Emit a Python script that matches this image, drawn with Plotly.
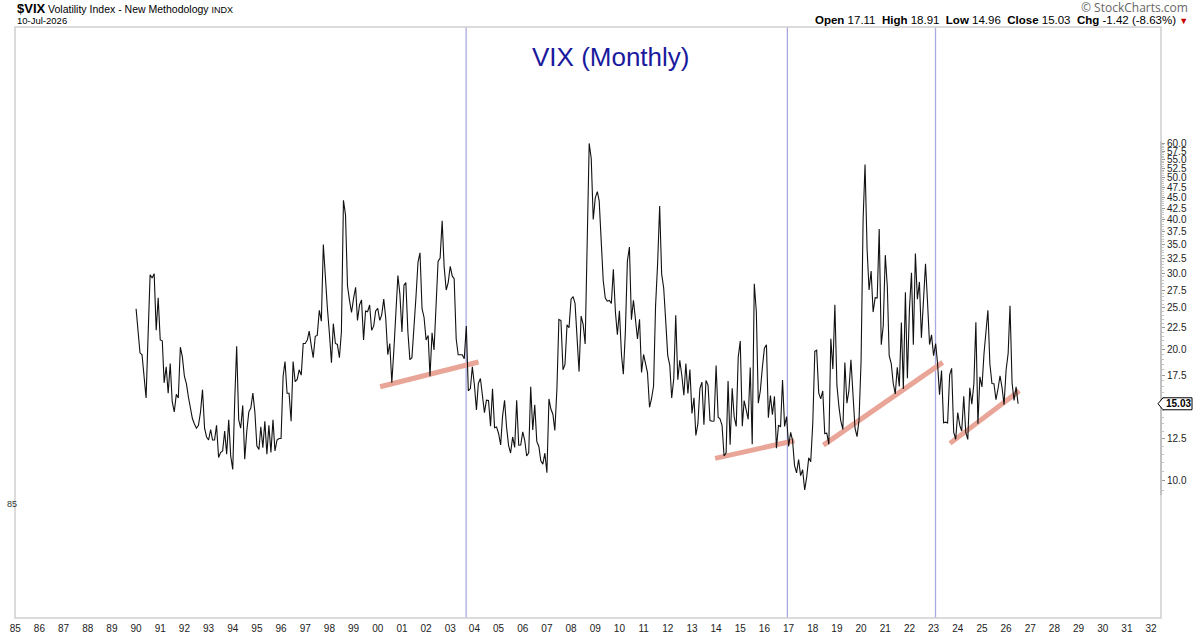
import numpy as np
import pandas as pd
import plotly.graph_objects as go

# ---------------- data (monthly closes, Jan-1990 .. Jul-2026) ----------------
vix_1990s = [
    24.9, 21.5, 19.7, 19.5, 17.4, 15.5, 21.5, 29.8, 29.3, 30.0, 22.2, 26.4,
    21.1, 21.0, 16.8, 18.3, 15.9, 18.6, 15.2, 14.4, 15.8, 15.5, 20.3, 19.3,
    17.4, 16.7, 15.6, 14.8, 13.9, 13.5, 13.2, 13.4, 14.4, 16.2, 13.2, 12.6,
    12.4, 13.1, 12.4, 12.4, 13.4, 11.3, 11.6, 11.7, 13.0, 11.5, 13.8, 11.4,
    10.6, 15.5, 20.4, 13.8, 13.2, 14.9, 11.2, 13.0, 14.4, 14.7, 15.9, 14.4,
    12.0, 11.8, 13.3, 11.9, 13.7, 11.5, 13.4, 11.6, 13.8, 11.7, 12.4, 12.5,
    12.5, 17.4, 18.8, 15.9, 15.9, 13.7, 18.8, 16.9, 17.1, 18.0, 17.5, 20.7,
    20.7, 21.1, 22.1, 20.5, 19.2, 21.5, 21.6, 24.7, 23.3, 35.0, 29.0, 25.0,
    21.8, 18.7, 23.0, 20.7, 20.6, 19.2, 22.0, 44.3, 41.0, 28.1, 26.0, 24.4,
    26.3, 27.9, 23.4, 25.4, 26.1, 21.1, 24.6, 24.5, 25.4, 22.2, 22.7, 24.6,
]
vix_2000s = [
    24.95, 23.4, 24.1, 26.2, 23.7, 19.5, 20.7, 16.8, 20.0, 25.0, 29.7, 26.9,
    22.0, 28.2, 28.6, 22.0, 19.0, 19.2, 22.0, 26.5, 31.9, 33.5, 24.9, 23.8,
    21.1, 21.6, 17.4, 21.9, 20.0, 25.4, 32.0, 32.6, 39.7, 31.1, 27.5, 28.6,
    31.2, 29.6, 29.2, 21.2, 19.5, 19.5, 19.5, 19.1, 22.7, 16.1, 16.3, 18.3,
    16.63, 14.55, 16.74, 17.19, 15.50, 14.34, 15.32, 15.29, 13.34, 16.27, 13.24, 13.29,
    12.82, 12.08, 14.02, 15.31, 13.29, 12.04, 11.57, 12.60, 11.92, 15.32, 12.06, 12.07,
    12.95, 12.34, 11.39, 11.59, 16.44, 13.08, 14.95, 12.31, 11.98, 11.10, 10.91, 11.56,
    10.42, 15.42, 14.64, 14.22, 13.05, 16.23, 23.52, 23.38, 18.00, 18.53, 22.87, 22.50,
    26.20, 26.54, 25.61, 20.79, 17.83, 23.95, 22.94, 20.65, 39.39, 59.89, 55.28, 40.00,
    44.84, 46.35, 44.14, 36.50, 28.92, 26.35, 25.92, 26.01, 25.61, 30.69, 24.51, 21.68,
]
vix_2010s = [
    24.62, 19.50, 17.59, 22.05, 32.07, 34.54, 23.50, 26.05, 23.70, 21.20, 23.54, 17.75,
    19.53, 18.35, 17.74, 14.75, 15.45, 16.52, 25.25, 31.62, 42.96, 29.96, 27.80, 23.40,
    19.44, 18.43, 15.50, 17.15, 24.06, 17.08, 18.93, 17.47, 15.73, 18.60, 15.87, 18.02,
    14.28, 15.51, 12.70, 13.52, 16.30, 16.86, 13.45, 17.01, 16.60, 13.75, 13.70, 13.72,
    18.41, 14.00, 13.88, 13.41, 11.40, 11.57, 16.95, 12.09, 16.31, 14.03, 13.33, 19.20,
    20.97, 13.34, 15.29, 14.55, 13.84, 18.23, 12.12, 28.43, 24.50, 15.07, 16.13, 18.21,
    20.20, 20.55, 13.95, 15.70, 14.19, 15.63, 11.87, 13.42, 13.29, 17.06, 13.33, 14.04,
    11.99, 12.92, 12.37, 10.82, 10.41, 11.18, 10.26, 10.59, 9.51, 10.18, 11.28, 11.04,
    13.54, 19.85, 19.97, 15.93, 15.43, 16.09, 12.83, 12.86, 12.12, 21.23, 18.07, 25.42,
    16.57, 14.78, 13.71, 13.12, 18.71, 15.08, 16.12, 18.98, 16.24, 13.22, 12.62, 13.78,
]
vix_2020s = [
    18.84, 40.11, 53.54, 34.15, 27.51, 30.43, 24.46, 26.41, 26.37, 38.02, 20.57, 22.75,
    33.09, 27.95, 19.40, 18.61, 16.76, 15.83, 18.24, 16.48, 23.14, 16.26, 27.19, 17.22,
    24.83, 30.15, 20.56, 33.40, 26.19, 28.71, 21.33, 25.87, 31.62, 25.88, 20.58, 21.67,
    19.40, 20.70, 18.70, 15.78, 17.94, 13.59, 13.63, 13.57, 17.52, 18.14, 12.92, 12.45,
    14.35, 13.40, 13.01, 15.65, 12.92, 12.44, 16.36, 15.00, 16.73, 23.16, 13.51, 17.35,
    16.43, 19.63, 22.28, 24.70, 18.57, 16.73, 16.72, 15.36, 16.28, 17.44, 16.35, 14.95,
    17.98, 19.65, 25.30, 16.80, 15.30, 16.45, 15.03,
]
start_month = "1990-01-01"

# trend lines: (date, value) endpoints
trend_dates = [
    ["2000-02-06", "2004-03-03"],
    ["2013-12-17", "2017-03-29"],
    ["2018-06-11", "2023-05-19"],
    ["2023-09-06", "2026-07-19"],
]
trend_values = [
    [16.45, 18.76],
    [11.25, 12.35],
    [12.07, 18.73],
    [12.18, 16.10],
]
# vertical marker lines
vline_dates = ["2003-08-29", "2016-12-13", "2023-01-30"]

# axis ticks
year_ticks = list(range(1985, 2033))
price_ticks = [10.0, 12.5, 17.5, 20.0, 22.5, 25.0, 27.5, 30.0, 32.5, 35.0,
               37.5, 40.0, 42.5, 45.0, 47.5, 50.0, 52.5, 55.0, 57.5, 60.0]
last_close = 15.03

# ---------------- build ----------------
values = vix_1990s + vix_2000s + vix_2010s + vix_2020s
dates = pd.date_range(start_month, periods=len(values), freq="MS")

W, H = 1200, 634
L, R, T, B = 15, 39, 27, 16
PW, PH = W - L - R, H - T - B
YLO, YHI = 0.6829, 2.0459
FONT = "Liberation Sans, Arial, sans-serif"


def px_x(x):
    return (x - L) / PW


def px_y(y):
    return (H - B - y) / PH


def val_y(v):
    return (np.log10(v) - YLO) / (YHI - YLO)


fig = go.Figure()

for d, v in zip(trend_dates, trend_values):
    fig.add_trace(go.Scatter(x=d, y=v, mode="lines",
                             line=dict(color="#E9A597", width=5),
                             hoverinfo="skip", showlegend=False))

fig.add_trace(go.Scatter(x=dates, y=values, mode="lines",
                         line=dict(color="#111111", width=1.1),
                         showlegend=False))

shapes = []
for d in vline_dates:
    shapes.append(dict(type="line", xref="x", yref="paper", x0=d, x1=d,
                       y0=0, y1=1, line=dict(color="#A9A9E2", width=1.3),
                       layer="below"))
# frame
shapes.append(dict(type="rect", xref="paper", yref="paper", x0=0, x1=1,
                   y0=0, y1=1, line=dict(color="#D0D0D0", width=1.5),
                   layer="below"))
# right price axis line
shapes.append(dict(type="line", xref="paper", yref="paper", x0=1, x1=1,
                   y0=val_y(9.25), y1=val_y(60.5),
                   line=dict(color="#A8A8A8", width=1)))
# last-price tag outline
shapes.append(dict(type="path", xref="paper", yref="paper",
                   xsizemode="pixel", ysizemode="pixel",
                   xanchor=1, yanchor=val_y(last_close),
                   path="M -3 0 L 2 -6 L 31 -6 L 31 6 L 2 6 Z",
                   fillcolor="white", line=dict(color="#000000", width=1)))

annotations = [
    dict(text="<span style='font-size:13px'><b>$VIX</b></span> "
              "Volatility Index - New Methodology "
              "<span style='font-size:9px'>INDX</span>",
         xref="paper", yref="paper", x=px_x(15), y=px_y(9),
         xanchor="left", yanchor="middle", showarrow=False,
         font=dict(family=FONT, size=10.5, color="#000")),
    dict(text="10-Jul-2026", xref="paper", yref="paper", x=px_x(15),
         y=px_y(21), xanchor="left", yanchor="middle", showarrow=False,
         font=dict(family=FONT, size=9.5, color="#000")),
    dict(text="© StockCharts.com", xref="paper", yref="paper", x=px_x(1190),
         y=px_y(8), xanchor="right", yanchor="middle", showarrow=False,
         font=dict(family="Open Sans, sans-serif", size=12, color="#666")),
    dict(text="<b>Open</b> 17.11  <b>High</b> 18.91  <b>Low</b> 14.96  "
              "<b>Close</b> 15.03  <b>Chg</b> -1.42 (-8.63%) "
              "<span style='color:#CC0000;font-size:9px'>▼</span>",
         xref="paper", yref="paper", x=px_x(1190), y=px_y(20),
         xanchor="right", yanchor="middle", showarrow=False,
         font=dict(family=FONT, size=11.5, color="#000")),
    dict(text="VIX (Monthly)", xref="paper", yref="paper", x=px_x(611),
         y=px_y(57), xanchor="center", yanchor="middle", showarrow=False,
         font=dict(family=FONT, size=26, color="#1A1A9E")),
    dict(text="<b>15.03</b>", xref="paper", yref="paper", x=1,
         y=val_y(last_close), xanchor="center", yanchor="middle",
         xshift=17, showarrow=False,
         font=dict(family=FONT, size=10, color="#000")),
    dict(text="85", xref="paper", yref="paper", x=0, y=px_y(504),
         xanchor="right", yanchor="middle", xshift=4, showarrow=False,
         font=dict(family=FONT, size=9, color="#333")),
]

minor_vals = [round(9.5 + 0.5 * i, 1) for i in range(102)]

fig.update_layout(
    width=W, height=H,
    margin=dict(l=L, r=R, t=T, b=B, autoexpand=False),
    paper_bgcolor="white", plot_bgcolor="white",
    shapes=shapes, annotations=annotations,
    hovermode=False,
    xaxis=dict(
        type="date", automargin=False,
        range=["1984-12-28", "2032-05-30"],
        tickvals=[f"{y}-01-01" for y in year_ticks],
        ticktext=[f"{y % 100:02d}" for y in year_ticks],
        showgrid=False, zeroline=False, showline=False, ticks="",
        ticklabelstandoff=3,
        tickfont=dict(family=FONT, size=10, color="#222"),
    ),
    yaxis=dict(
        type="log", side="right", automargin=False,
        range=[YLO, YHI],
        tickvals=price_ticks,
        ticktext=[f"{v:.1f}" for v in price_ticks],
        showgrid=False, zeroline=False, showline=False,
        ticks="outside", ticklen=3, tickcolor="#999",
        tickfont=dict(family=FONT, size=10, color="#222"),
        minor=dict(tickvals=minor_vals, ticks="outside", ticklen=2,
                   tickcolor="#C4C4C4"),
    ),
)

fig.write_html("out.html")
